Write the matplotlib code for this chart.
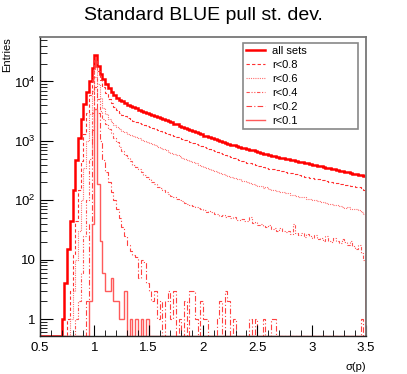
import numpy as np
import matplotlib
matplotlib.use('Agg')
import matplotlib.pyplot as plt
from matplotlib.ticker import MultipleLocator, LogLocator, FixedLocator, FixedFormatter

plt.rcParams['font.family'] = ['Liberation Sans', 'DejaVu Sans']
plt.rcParams['mathtext.fontset'] = 'custom'
plt.rcParams['mathtext.rm'] = 'Liberation Sans'

# histogram binning: 120 bins of 0.025 between 0.5 and 3.5
edges = np.linspace(0.5, 3.5, 121)

# entries per bin
all_sets = [
    0, 0, 0, 0, 0, 0, 0, 0, 1, 4,
    15, 45, 150, 480, 1100, 2300, 4200, 6600, 10000, 17000,
    28000, 18500, 13500, 11000, 9200, 7800, 6700, 5900, 5300, 4950,
    4620, 4330, 4060, 3850, 3660, 3520, 3370, 3200, 3060, 2950,
    2810, 2700, 2590, 2490, 2400, 2300, 2210, 2130, 2040, 1960,
    1890, 1810, 1740, 1670, 1610, 1540, 1480, 1410, 1350, 1290,
    1230, 1190, 1150, 1110, 1070, 1030, 995, 965, 930, 900,
    865, 840, 810, 790, 765, 745, 725, 705, 690, 665,
    645, 630, 610, 590, 575, 565, 550, 540, 525, 515,
    500, 490, 480, 470, 455, 445, 435, 425, 418, 410,
    400, 390, 382, 372, 363, 355, 347, 339, 331, 325,
    316, 309, 302, 295, 290, 282, 275, 270, 264, 252,
]
r08 = [
    0, 0, 0, 0, 0, 0, 0, 0, 0, 0,
    1, 3, 12, 45, 150, 450, 1300, 3000, 6000, 12000,
    23000, 15000, 10500, 8000, 6300, 5100, 4300, 3700, 3250, 2950,
    2750, 2580, 2420, 2300, 2200, 2100, 2020, 1950, 1870, 1800,
    1740, 1670, 1600, 1540, 1480, 1420, 1370, 1320, 1270, 1220,
    1170, 1120, 1080, 1030, 990, 950, 910, 880, 850, 820,
    790, 760, 730, 700, 670, 645, 620, 595, 575, 550,
    530, 510, 490, 475, 460, 445, 430, 418, 405, 392,
    380, 372, 360, 350, 342, 335, 330, 320, 313, 306,
    298, 292, 283, 276, 272, 264, 258, 250, 246, 240,
    235, 232, 225, 220, 216, 210, 206, 203, 198, 192,
    190, 187, 182, 179, 176, 172, 170, 167, 163, 150,
]
r06 = [
    0, 0, 0, 0, 0, 0, 0, 0, 0, 0,
    0, 1, 3, 10, 30, 100, 350, 1000, 2800, 7000,
    17000, 9000, 5200, 3600, 2800, 2350, 2050, 1850, 1700, 1580,
    1480, 1400, 1330, 1260, 1200, 1150, 1100, 1050, 1000, 960,
    920, 880, 840, 800, 760, 725, 690, 660, 630, 600,
    575, 550, 525, 500, 478, 456, 436, 418, 400, 385,
    370, 355, 340, 326, 313, 300, 289, 278, 268, 258,
    249, 240, 232, 226, 214, 210, 200, 196, 186, 183,
    176, 173, 164, 166, 155, 151, 149, 143, 140, 137,
    131, 132, 124, 123, 119, 115, 112, 113, 106, 104,
    101, 102, 96, 93, 92, 90, 87, 88, 82, 83,
    80, 77, 75, 77, 72, 70, 70, 68, 64, 58,
]
r04 = [
    0, 0, 0, 0, 0, 0, 0, 0, 0, 0,
    0, 0, 0, 1, 2, 6, 25, 100, 500, 3000,
    12000, 5000, 3200, 2300, 1900, 1600, 1350, 1120, 940, 790,
    670, 580, 510, 450, 400, 360, 330, 300, 270, 245,
    225, 205, 185, 170, 158, 147, 137, 128, 120, 113,
    107, 101, 96, 91, 87, 83, 79, 76, 73, 70,
    68, 63, 66, 64, 58, 59, 55, 57, 52, 55,
    50, 53, 47, 46, 49, 44, 45, 52, 41, 43,
    38, 40, 37, 35, 38, 33, 34, 31, 34, 30,
    29, 31, 27, 40, 28, 26, 28, 24, 27, 25,
    23, 26, 22, 23, 21, 25, 21, 20, 23, 21,
    19, 22, 20, 18, 21, 17, 15, 18, 13, 10,
]
r02 = [
    0, 0, 0, 0, 0, 0, 0, 0, 0, 0,
    0, 0, 0, 0, 0, 0, 0, 2, 40, 1500,
    8000, 3000, 1000, 480, 300, 200, 140, 100, 70, 50,
    35, 25, 18, 14, 12, 11, 5, 10, 9, 4,
    3, 2, 3, 1, 2, 0, 2, 3, 1, 3,
    0, 1, 0, 2, 0, 3, 3, 1, 0, 2,
    1, 1, 0, 0, 0, 1, 2, 0, 3, 2,
    0, 1, 0, 0, 0, 0, 0, 1, 0, 1,
    0, 0, 1, 0, 0, 1, 1, 0, 0, 0,
    0, 0, 0, 0, 0, 0, 0, 0, 0, 0,
    0, 0, 0, 0, 0, 0, 0, 0, 0, 0,
    0, 0, 0, 0, 0, 0, 0, 0, 1, 0,
]
r01 = [
    0, 0, 0, 0, 0, 0, 0, 0, 0, 0,
    0, 0, 0, 0, 0, 0, 0, 0, 2, 40,
    3500, 190, 21, 6, 3, 3, 5, 2, 2, 1,
    1, 3, 0, 1, 0, 1, 0, 1, 0, 1,
] + [0] * 80

labels = ['all sets', 'r<0.8', 'r<0.6', 'r<0.4', 'r<0.2', 'r<0.1']

ymin, ymax = 0.52, 56000

fig = plt.figure(figsize=(4.07, 3.74), dpi=100)
ax = fig.add_axes([40 / 407, 38 / 374, 326 / 407, 299 / 374])

styles = [
    dict(lw=1.8, ls='-', color='#ff0000'),
    dict(lw=0.8, ls=(0, (3, 2)), color='#ff3030'),
    dict(lw=0.8, ls=(0, (1, 1)), color='#ff7070'),
    dict(lw=0.8, ls=(0, (3, 1.5, 1, 1.5, 1, 1.5)), color='#ff5050'),
    dict(lw=0.8, ls=(0, (5, 2, 1, 2)), color='#ff4040'),
    dict(lw=1.0, ls='-', color='#ff5a5a'),
]

series = [all_sets, r08, r06, r04, r02, r01]
for vals, lab, st in zip(series, labels, styles):
    v = np.array(vals, dtype=float)
    v[v <= 0] = ymin  # empty bins sit on the frame, like ROOT
    ax.stairs(v, edges, baseline=ymin, label=lab, **st)

ax.set_yscale('log')
ax.set_xlim(0.5, 3.5)
ax.set_ylim(ymin, ymax)

ax.xaxis.set_major_locator(MultipleLocator(0.5))
ax.xaxis.set_minor_locator(MultipleLocator(0.1))
ax.xaxis.set_major_formatter(plt.FuncFormatter(lambda x, p: '%g' % x))

yt = [1, 10, 100, 1000, 10000]
ax.yaxis.set_major_locator(FixedLocator(yt))
ax.yaxis.set_major_formatter(FixedFormatter(['1', '10', r'$10^{2}$', r'$10^{3}$', r'$10^{4}$']))
ax.yaxis.set_minor_locator(LogLocator(base=10, subs=np.arange(2, 10)))
ax.yaxis.set_minor_formatter(plt.NullFormatter())

ax.tick_params(which='both', direction='in', top=False, right=False, labelsize=9.5, colors='black')
ax.tick_params(axis='x', which='major', length=8, pad=4)
ax.tick_params(axis='x', which='minor', length=4)
ax.tick_params(axis='y', which='major', length=9, pad=3)
ax.tick_params(axis='y', which='minor', length=5)

for s in ['top', 'right']:
    ax.spines[s].set_color('#777777')
    ax.spines[s].set_linewidth(1.3)
for s in ['left', 'bottom']:
    ax.spines[s].set_color('#222222')
    ax.spines[s].set_linewidth(1.0)

ax.set_ylabel('Entries', loc='top', fontsize=8)
ax.yaxis.set_label_coords(-0.086, 1.0)
ax.set_xlabel('σ(p)', loc='right', fontsize=8, labelpad=6)

fig.suptitle('Standard BLUE pull st. dev.', fontsize=14, y=0.98)

leg = ax.legend(loc='upper left', bbox_to_anchor=(0.623, 0.689, 0.352, 0.291), mode='expand',
                fontsize=8, frameon=True, fancybox=False, framealpha=1, edgecolor='#888888',
                handlelength=1.7, handletextpad=0.6, labelspacing=0.35, borderpad=0.3,
                borderaxespad=0)
leg.get_frame().set_linewidth(1.2)

fig.savefig('out.png', dpi=100)
